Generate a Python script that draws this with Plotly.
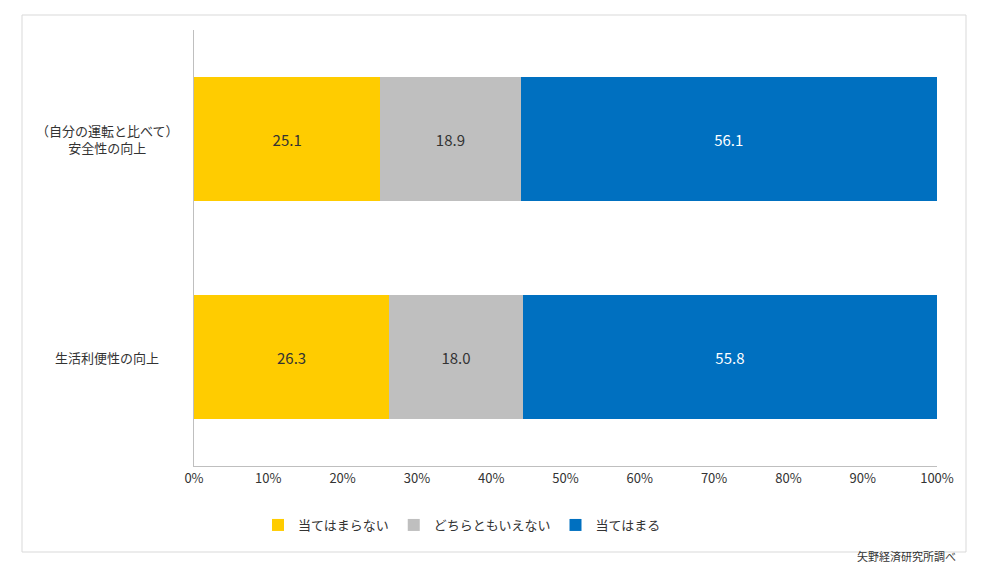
import plotly.graph_objects as go

categories = ["生活利便性の向上", "（自分の運転と比べて）<br>安全性の向上"]
series_names = ["当てはまらない", "どちらともいえない", "当てはまる"]
values = {
    "当てはまらない": [26.3, 25.1],
    "どちらともいえない": [18.0, 18.9],
    "当てはまる": [55.8, 56.1],
}
colors = {"当てはまらない": "#FFCC00", "どちらともいえない": "#BFBFBF", "当てはまる": "#0070C0"}
text_colors = {"当てはまらない": "#333333", "どちらともいえない": "#333333", "当てはまる": "white"}

fig = go.Figure()
for s in series_names:
    fig.add_trace(go.Bar(
        y=categories, x=values[s], name=s, orientation="h",
        marker=dict(color=colors[s], line=dict(width=0)),
        text=[f"{v:.1f}" for v in values[s]], textposition="inside",
        insidetextanchor="middle",
        textfont=dict(color=text_colors[s], size=15, family="Noto Sans CJK JP"),
        hoverinfo="skip",
    ))

O = 8  # page offset
W, H = 981 - 2 * O, 574 - 2 * O
l, r, t, b = 194 - O, W - (937 - O), 30 - O, H - (466 - O)
pw, ph = W - l - r, H - t - b
fx = lambda px: (px - O - l) / pw
fy = lambda py: (H - b - (py - O)) / ph

fig.update_layout(
    width=W, height=H, barmode="stack", barnorm="percent", bargap=0.43,
    margin=dict(l=l, r=r, t=t, b=b),
    paper_bgcolor="white", plot_bgcolor="white",
    font=dict(family="Noto Sans CJK JP", size=13, color="#333333"),
    showlegend=True,
    legend=dict(orientation="h", x=fx(258), y=fy(510), xanchor="left", yanchor="top",
                font=dict(size=13), traceorder="normal", itemwidth=30),
    xaxis=dict(range=[0, 100], tickvals=list(range(0, 101, 10)),
               ticktext=[f"{v}%" for v in range(0, 101, 10)],
               showgrid=False, showline=True, linecolor="#BFBFBF", linewidth=1,
               ticks="", zeroline=False, tickfont=dict(size=13), fixedrange=True),
    yaxis=dict(showgrid=False, showline=True, linecolor="#BFBFBF", linewidth=1,
               ticks="", showticklabels=False, fixedrange=True),
    shapes=[dict(type="rect", xref="paper", yref="paper",
                 x0=fx(22), x1=fx(966), y0=fy(552), y1=fy(15),
                 line=dict(color="#D9D9D9", width=1))],
    annotations=[dict(text="矢野経済研究所調べ", xref="paper", yref="paper",
                      x=fx(958), y=fy(556), xanchor="right", yanchor="middle",
                      showarrow=False, font=dict(size=11, color="#333333"))]
    + [dict(text=c, xref="paper", y=c, yref="y", x=fx(107), xanchor="center",
            align="center", showarrow=False, font=dict(size=13, color="#333333"))
       for c in categories],
)
fig.write_html("out.html")
